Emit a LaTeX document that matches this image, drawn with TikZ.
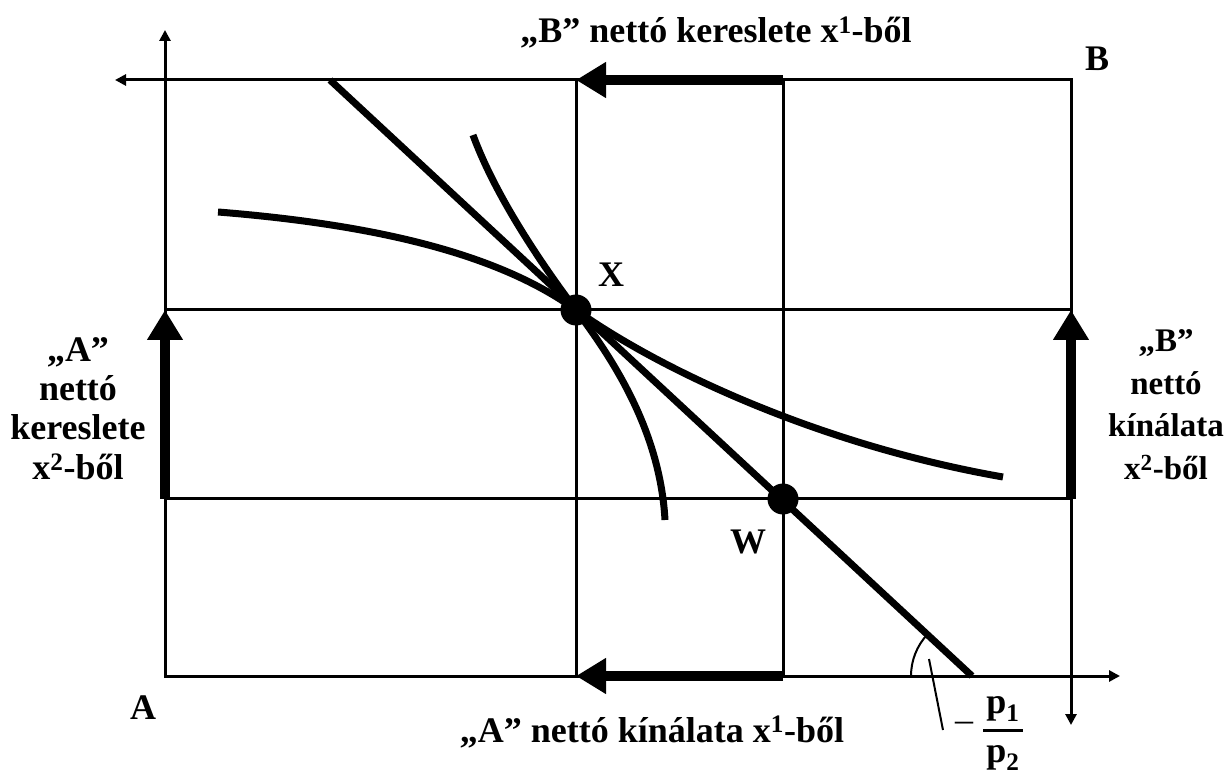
\documentclass[tikz,border=0pt]{standalone}
\usepackage{fontspec}
\setmainfont{Liberation Serif}
\usetikzlibrary{arrows.meta}
\begin{document}
\begin{tikzpicture}[x=1pt,y=-1pt,
  gridline/.style={line width=3pt},
  axis/.style={line width=3pt,-{Triangle[length=11pt,width=11pt]}},
  flow/.style={line width=10pt,-{Triangle[length=30pt,width=34pt]}},
  curve/.style={line width=7pt},
  dot/.style={circle,fill=black,inner sep=0pt,minimum size=31pt},
  lbl/.style={font=\fontsize{36}{41}\selectfont\bfseries,inner sep=0pt,anchor=base},
  rlbl/.style={font=\fontsize{33}{40}\selectfont\bfseries,inner sep=0pt,anchor=base},
  thinline/.style={line width=2pt},
]
\useasboundingbox (0,0) rectangle (1227,775);
% corners and grid points
\coordinate (A0) at (165,676);
\coordinate (B0) at (1071,80);
\coordinate (TL) at (165,80);
\coordinate (BR) at (1071,676);
\coordinate (v1t) at (576,80);
\coordinate (v1b) at (576,676);
\coordinate (v2t) at (783,80);
\coordinate (v2b) at (783,676);
\coordinate (h1l) at (165,310);
\coordinate (h1r) at (1071,310);
\coordinate (h2l) at (165,499);
\coordinate (h2r) at (1071,499);
% axis ends
\coordinate (yTop) at (165,30);
\coordinate (xLeft) at (115,80);
\coordinate (xRight) at (1120,676);
\coordinate (yDown) at (1071,725);
% grid
\draw[gridline] (TL) rectangle (BR);
\draw[gridline] (v1t) -- (v1b);
\draw[gridline] (v2t) -- (v2b);
\draw[gridline] (h1l) -- (h1r);
\draw[gridline] (h2l) -- (h2r);
% axes
\draw[axis] (A0) -- (yTop);
\draw[axis] (B0) -- (xLeft);
\draw[axis] (A0) -- (xRight);
\draw[axis] (B0) -- (yDown);
% thick flow arrows
\draw[flow] (v2t) -- (v1t);
\draw[flow] (v2b) -- (v1b);
\draw[flow] (h2l) -- (h1l);
\draw[flow] (h2r) -- (h1r);
% budget line
\coordinate (bl1) at (330,80);
\coordinate (bl2) at (972,676);
\draw[curve] (bl1) -- (bl2);
% indifference curves
\coordinate (c1s) at (218,212);
\coordinate (c1e) at (1003,477);
\coordinate (c2s) at (473,135);
\coordinate (c2e) at (665,520);
\coordinate (Xp) at (576,310);
\coordinate (Wp) at (783,499);
\draw[curve] (c1s) .. controls (380,225) and (500,255) .. (Xp)
                   .. controls (660,370) and (820,445) .. (c1e);
\draw[curve] (c2s) .. controls (495,195) and (540,262) .. (Xp)
                   .. controls (612,358) and (660,430) .. (c2e);
% dots
\node[dot] (X) at (Xp) {};
\node[dot] (W) at (Wp) {};
% angle arc and leader
\coordinate (angS) at (911,676);
\draw[thinline] (angS) arc[start angle=180,end angle=137,radius=61pt];
\coordinate (ld1) at (929,659);
\coordinate (ld2) at (943,730);
\draw[thinline] (ld1) -- (ld2);
% fraction
\node[font=\fontsize{36}{41}\selectfont,inner sep=0pt] (minus) at (964,727) {–};
\node[lbl] (p1) at (1003,713) {p\textsubscript{1}};
\node[lbl] (p2) at (1003,762) {p\textsubscript{2}};
\coordinate (fb1) at (983,730);
\coordinate (fb2) at (1023,730);
\draw[line width=3pt] (fb1) -- (fb2);
% labels
\node[lbl] (Xl) at (611,287) {X};
\node[lbl] (Wl) at (748,553) {W};
\node[lbl] (Al) at (143,719) {A};
\node[lbl] (Bl) at (1097,71) {B};
\node[lbl] (topt) at (716,43) {„B” nettó kereslete x\textsuperscript{1}-ből};
\node[lbl] (bott) at (652,742) {„A” nettó kínálata x\textsuperscript{1}-ből};
% left stacked label
\node[lbl] (la1) at (78,362) {„A”};
\node[lbl] (la2) at (78,401) {nettó};
\node[lbl] (la3) at (78,440) {kereslete};
\node[lbl] (la4) at (78,480) {x\textsuperscript{2}-ből};
% right stacked label
\node[rlbl] (lb1) at (1166,352) {„B”};
\node[rlbl] (lb2) at (1166,395) {nettó};
\node[rlbl] (lb3) at (1166,437) {kínálata};
\node[rlbl] (lb4) at (1166,480) {x\textsuperscript{2}-ből};
\end{tikzpicture}
\end{document}
